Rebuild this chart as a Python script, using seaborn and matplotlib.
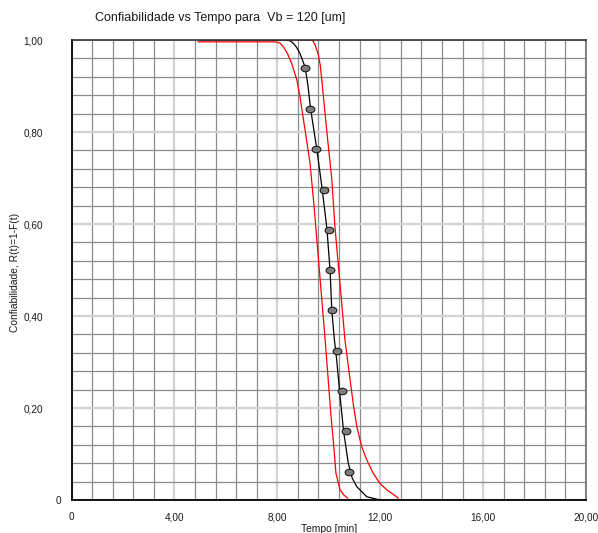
import numpy as np
import matplotlib
matplotlib.use('Agg')
import matplotlib.pyplot as plt
from matplotlib.path import Path
from matplotlib.transforms import Affine2D
from matplotlib.ticker import MultipleLocator, FixedLocator, FixedFormatter
import seaborn as sns

# Pontos observados (tempo de falha vs confiabilidade)
pts_t = [9.08, 9.27, 9.50, 9.82, 10.02, 10.04, 10.13, 10.32, 10.52, 10.66, 10.78]
pts_r = [0.939, 0.851, 0.763, 0.675, 0.588, 0.500, 0.412, 0.325, 0.237, 0.149, 0.061]

# Curva ajustada (preta)
fit_t = [5.00, 8.37, 8.50, 8.62, 8.75, 8.88, 9.08, 9.19, 9.29, 9.53, 9.74, 9.93, 10.05, 10.12,
         10.22, 10.31, 10.44, 10.58, 10.76, 10.91, 11.09, 11.48, 12.00]
fit_r = [1.000, 1.000, 0.998, 0.993, 0.984, 0.971, 0.941, 0.902, 0.852, 0.765, 0.678, 0.589,
         0.500, 0.411, 0.348, 0.304, 0.225, 0.148, 0.080, 0.048, 0.029, 0.007, 0.000]

# Limite inferior (vermelho, esquerda)
low_t = [4.92, 7.91, 8.02, 8.11, 8.24, 8.40, 8.56, 8.76, 8.88, 9.08, 9.27, 9.43, 9.86,
         10.08, 10.19, 10.28, 10.44, 10.60, 10.74]
low_r = [0.996, 0.996, 0.995, 0.993, 0.985, 0.970, 0.949, 0.913, 0.877, 0.804, 0.733, 0.638,
         0.348, 0.188, 0.120, 0.058, 0.022, 0.010, 0.004]

# Limite superior (vermelho, direita)
up_t = [8.00, 9.34, 9.40, 9.47, 9.60, 9.67, 9.73, 9.92, 10.12, 10.24, 10.63, 10.83, 10.96,
        11.09, 11.28, 11.48, 11.73, 11.99, 12.26, 12.71]
up_r = [1.000, 1.000, 0.997, 0.989, 0.967, 0.945, 0.913, 0.804, 0.696, 0.594, 0.348, 0.261,
        0.206, 0.160, 0.116, 0.087, 0.058, 0.036, 0.022, 0.004]

x_ticks = [0, 4, 8, 12, 16, 20]
x_labels = ['0', '4,00', '8,00', '12,00', '16,00', '20,00']
y_ticks = [0, 0.2, 0.4, 0.6, 0.8, 1.0]
y_labels = ['0', '0,20', '0,40', '0,60', '0,80', '1,00']

sns.set_style('white')
plt.rcParams['font.family'] = ['Liberation Sans', 'DejaVu Sans']

fig = plt.figure(figsize=(5.98, 5.33), dpi=100)
ax = fig.add_axes([71.5 / 598, 33 / 533, 514.5 / 598, 460 / 533])

ax.set_xlim(0, 20)
ax.set_ylim(0, 1)

# grade: linhas menores escuras, maiores claras
ax.xaxis.set_major_locator(FixedLocator(x_ticks))
ax.xaxis.set_major_formatter(FixedFormatter(x_labels))
ax.yaxis.set_major_locator(FixedLocator(y_ticks))
ax.yaxis.set_major_formatter(FixedFormatter(y_labels))
ax.xaxis.set_minor_locator(MultipleLocator(0.8))
ax.yaxis.set_minor_locator(MultipleLocator(0.04))
ax.grid(which='minor', color='#8c8c8c', lw=0.9)
ax.grid(which='major', color='#d2d2d2', lw=1.6)
ax.set_axisbelow(True)

sns.lineplot(x=low_t, y=low_r, sort=False, estimator=None, color='#ff0000', lw=0.9, ax=ax)
sns.lineplot(x=up_t, y=up_r, sort=False, estimator=None, color='#ff0000', lw=0.9, ax=ax)
sns.lineplot(x=fit_t, y=fit_r, sort=False, estimator=None, color='#000000', lw=0.9, ax=ax)

ellipse = Path.unit_circle().transformed(Affine2D().scale(1.35, 1.0))
sns.scatterplot(x=pts_t, y=pts_r, marker=ellipse, s=40, color='#7f7f7f',
                edgecolor='#1a1a1a', linewidth=0.8, ax=ax, zorder=5)

ax.tick_params(axis='both', which='minor', length=0)
ax.tick_params(axis='x', which='major', length=0, pad=9, labelsize=7.2, labelcolor='#1a1a1a')
ax.tick_params(axis='y', which='major', length=6, width=1.0, color='#d2d2d2',
               pad=14.4, labelsize=7.2, labelcolor='#1a1a1a')
yt = ax.yaxis.get_major_ticks()
yt[0].set_pad(1.5)
yt[0].tick1line.set_color('#000000')
yt[-1].tick1line.set_color('#000000')

for side, col, w in [('left', '#000000', 1.3), ('bottom', '#000000', 1.3),
                     ('top', '#333333', 1.2), ('right', '#707070', 1.2)]:
    ax.spines[side].set_visible(True)
    ax.spines[side].set_color(col)
    ax.spines[side].set_linewidth(w)

ax.set_xlabel('')
ax.set_ylabel('')

fig.text(95 / 598, 1 - 18.5 / 533, 'Confiabilidade vs Tempo para  Vb = 120 [um]',
         ha='left', va='center', fontsize=9, color='#1a1a1a')
fig.text(15 / 598, 1 - 272.5 / 533, 'Confiabilidade, R(t)=1-F(t)', rotation=90,
         ha='center', va='center', fontsize=7.4, color='#1a1a1a')
fig.text(329 / 598, 1 - 529.5 / 533, 'Tempo [min]', ha='center', va='center',
         fontsize=7.4, color='#1a1a1a')

fig.savefig('out.png', dpi=100)
